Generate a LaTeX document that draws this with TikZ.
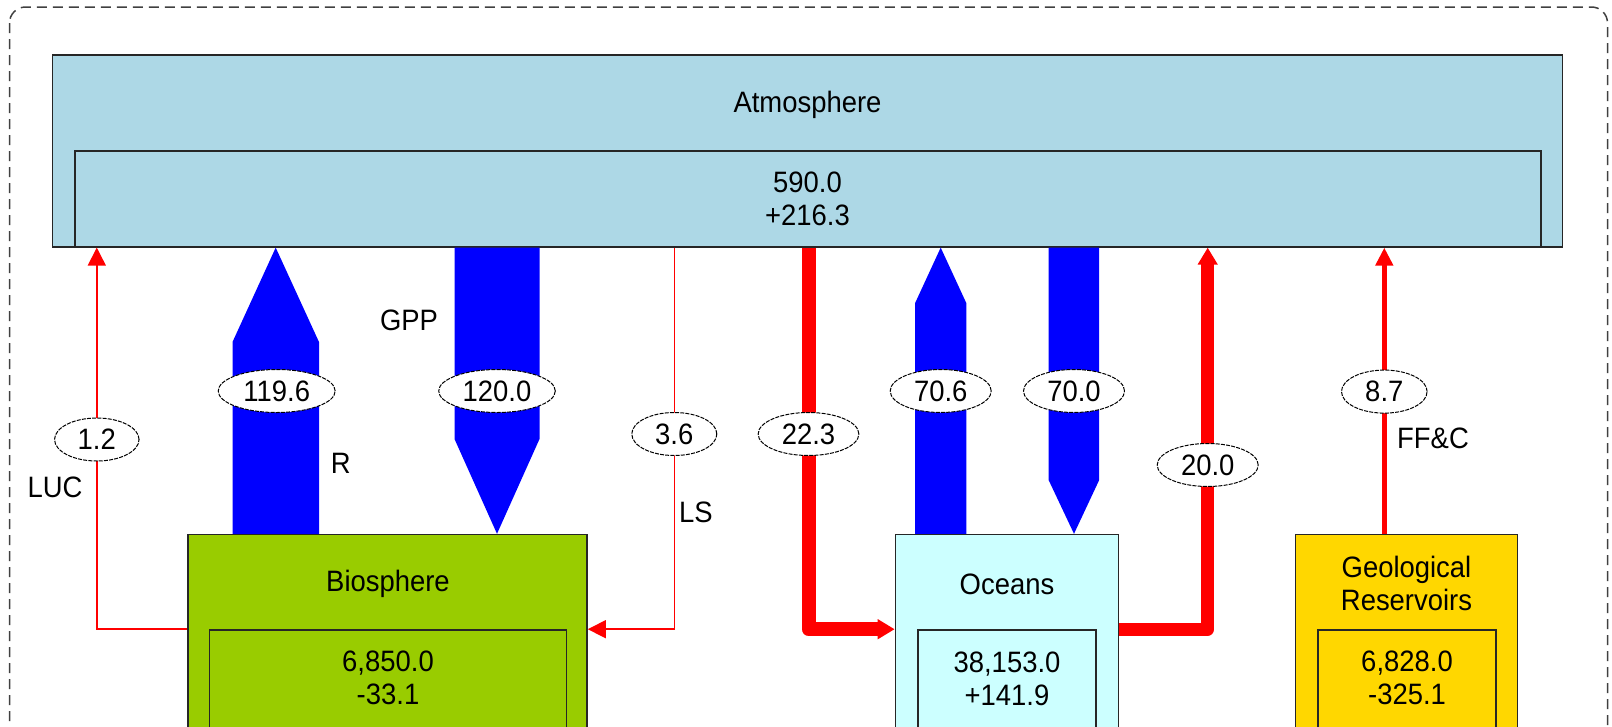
\documentclass[tikz,border=0pt]{standalone}
\usepackage{fontspec}
\setmainfont{Liberation Sans}[FakeStretch=0.93]
\usetikzlibrary{shapes.geometric,arrows.meta}
\definecolor{atmcol}{HTML}{ADD8E6}
\definecolor{biocol}{HTML}{99CC00}
\definecolor{oceancol}{HTML}{CCFFFF}
\definecolor{geocol}{HTML}{FFD700}
\definecolor{flowblue}{HTML}{0000FF}
\definecolor{flowred}{HTML}{FF0000}
\definecolor{framecol}{HTML}{404040}
\begin{document}
\begin{tikzpicture}[x=1pt,y=-1pt,
  box/.style={draw=black!85, line width=1.6pt, inner sep=0pt},
  lbl/.style={font=\fontsize{29.5}{33}\selectfont, align=center, inner sep=0pt},
  val/.style={ellipse, draw=black, dash pattern=on 4pt off 1.2pt, line width=1pt, fill=white,
    minimum height=43pt, inner sep=0pt, font=\fontsize{29.5}{33}\selectfont},
  thinflow/.style={draw=flowred, line width=1.5pt, -{Triangle[width=18pt,length=18pt]}},
  midflow/.style={draw=flowred, line width=4.5pt, -{Triangle[width=17pt,length=18pt]}},
  thickflow/.style={draw=flowred, line width=14pt, line join=round, -{Triangle[width=19pt,length=17pt]}},
  fatflow/.style={fill=flowblue}
]
\useasboundingbox (0,0) rectangle (1612,726);
\clip (0,0) rectangle (1612,726);
\draw[framecol, line width=1.5pt, dash pattern=on 10pt off 6pt, rounded corners=16pt] (9.5,7) rectangle (1607.5,790);

% reservoirs
\node[box, fill=atmcol, minimum width=1510pt, minimum height=192pt] (atm) at (807.5,150.8) {};
\node[box, fill=atmcol, minimum width=1466pt, minimum height=95.7pt] (atmin) at (808,198.9) {};
\node[lbl] (atmt) at (807.5,105) {Atmosphere};
\node[lbl] (atmv) at (807.5,199) {590.0\\+216.3};

\node[box, fill=biocol, minimum width=399pt, minimum height=265pt] (bio) at (387.5,667.1) {};
\node[box, fill=biocol, minimum width=357pt, minimum height=170pt] (bioin) at (388,715) {};
\node[lbl] (biot) at (388,584) {Biosphere};
\node[lbl] (biov) at (388,678) {6,850.0\\-33.1};

\node[box, fill=oceancol, minimum width=223pt, minimum height=265pt] (oce) at (1007,667.1) {};
\node[box, fill=oceancol, minimum width=178pt, minimum height=170pt] (ocein) at (1007,715) {};
\node[lbl] (ocet) at (1007,584) {Oceans};
\node[lbl] (ocev) at (1007,679) {38,153.0\\+141.9};

\node[box, fill=geocol, minimum width=222pt, minimum height=265pt] (geo) at (1406.5,667.1) {};
\node[box, fill=geocol, minimum width=178pt, minimum height=170pt] (geoin) at (1407,715) {};
\node[lbl] (geot) at (1406.5,583) {Geological\\Reservoirs};
\node[lbl] (geov) at (1407,678) {6,828.0\\-325.1};

% helper coordinates
\coordinate (Rl) at (232.5,342); \coordinate (Rr) at (319,342); \coordinate (Rc) at (275.7,342);
\coordinate (Gl) at (454.5,439); \coordinate (Gr) at (539.5,439); \coordinate (Gc) at (497,439);
\coordinate (Ol) at (915,303.3); \coordinate (Or) at (966.4,303.3); \coordinate (Oc) at (940.7,303.3);
\coordinate (Dl) at (1048.6,480); \coordinate (Dr) at (1099.2,480); \coordinate (Dc) at (1074,480);
\coordinate (LUCx) at (96.8,0); \coordinate (LSx) at (674.3,0);
\coordinate (Ax) at (808.5,0); \coordinate (Bx) at (1207.7,0); \coordinate (Fx) at (1384.3,0);

% blue fluxes
\fill[fatflow] (bio.north -| Rl) -- (Rl) -- (Rc |- atm.south) -- (Rr) -- (bio.north -| Rr) -- cycle;
\fill[fatflow] (atm.south -| Gl) -- (Gl) -- (Gc |- bio.north) -- (Gr) -- (atm.south -| Gr) -- cycle;
\fill[fatflow] (oce.north -| Ol) -- (Ol) -- (Oc |- atm.south) -- (Or) -- (oce.north -| Or) -- cycle;
\fill[fatflow] (atm.south -| Dl) -- (Dl) -- (Dc |- oce.north) -- (Dr) -- (atm.south -| Dr) -- cycle;

% red fluxes
\draw[thinflow] (bio.west |- bioin.north) -| (LUCx |- atm.south);
\draw[thinflow] (LSx |- atm.south) |- (bio.east |- bioin.north);
\draw[thickflow] (Ax |- atm.south) |- (oce.west |- ocein.north);
\draw[thickflow, line width=13pt] (oce.east |- ocein.north) -| (Bx |- atm.south);
\draw[midflow] (geo.north -| Fx) -- (Fx |- atm.south);

% values
\node[val, minimum width=84.5pt] (v12) at (96.8,439.5) {1.2};
\node[val, minimum width=117pt] (v1196) at (276.7,391) {119.6};
\node[val, minimum width=116.6pt] (v120) at (497,391) {120.0};
\node[val, minimum width=85pt] (v36) at (674.3,434) {3.6};
\node[val, minimum width=100.7pt] (v223) at (808.5,434) {22.3};
\node[val, minimum width=101pt] (v706) at (940.7,391) {70.6};
\node[val, minimum width=101pt] (v700) at (1074,391) {70.0};
\node[val, minimum width=101pt] (v200) at (1207.7,465) {20.0};
\node[val, minimum width=85.6pt] (v87) at (1384.3,391.6) {8.7};

% flux names
\node[lbl] (gpp) at (409,320) {GPP};
\node[lbl] (rlab) at (340.7,463) {R};
\node[lbl] (luc) at (55,487.5) {LUC};
\node[lbl] (ls) at (696,512.5) {LS};
\node[lbl] (ffc) at (1433,438.5) {FF\&C};
\end{tikzpicture}
\end{document}
